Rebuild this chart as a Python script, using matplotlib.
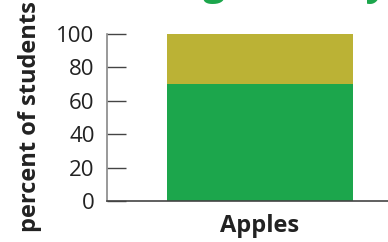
import matplotlib
matplotlib.use("Agg")
import matplotlib.pyplot as plt

categories = ["Apples"]
series_names = ["Yes", "No"]
yes_vals = [70]
no_vals = [30]
yticks = [0, 20, 40, 60, 80, 100]
title = "Eating Healthy"

plt.rcParams['font.family'] = ['Open Sans', 'DejaVu Sans']

W, H = 388, 242
fig = plt.figure(figsize=(W/100, H/100), dpi=100)
ax = fig.add_axes([107/W, 41/H, 306/W, 167/H])

ax.bar(categories, yes_vals, width=0.605, color="#1ca64c")
ax.bar(categories, no_vals, bottom=yes_vals, width=0.605, color="#bbb235")

ax.set_xlim(-0.5, 0.5)
ax.set_ylim(0, 100)
ax.set_yticks(yticks)
ax.set_yticklabels([str(v) for v in yticks], fontsize=16, color="#222222")
ax.tick_params(axis='y', direction='in', length=14, width=1, color="#444444", pad=9)
ax.tick_params(axis='x', length=0, pad=9)
for lbl in ax.get_xticklabels():
    lbl.set_fontsize(17)
    lbl.set_fontweight('bold')
    lbl.set_color("#222222")
ax.spines['top'].set_visible(False)
ax.spines['right'].set_visible(False)
ax.spines['left'].set_color("#888888")
ax.spines['bottom'].set_color("#444444")
ax.spines['left'].set_linewidth(1.2)
ax.spines['bottom'].set_linewidth(1.2)

fig.text(30/W, 1 - 232/H, "percent of students", rotation=90, fontsize=17,
         fontweight='bold', color="#222222", ha='center', va='bottom')

fig.text(104/W, 1 + 5/H, title, fontsize=28, fontweight='bold',
         color="#1ca64c", ha='left', va='baseline')

fig.savefig("out.png", dpi=100)
